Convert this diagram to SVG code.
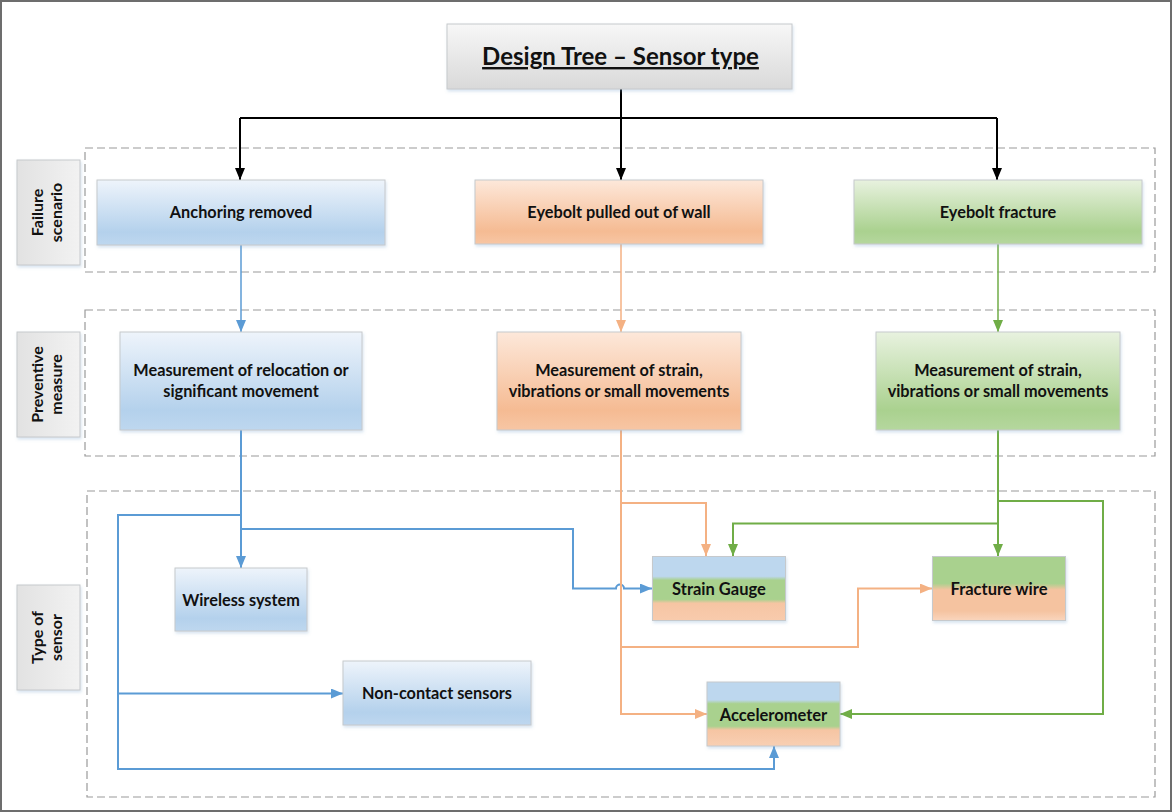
<svg xmlns="http://www.w3.org/2000/svg" width="1173" height="812" viewBox="0 0 1173 812">
  <style>
    .t { font-family: Lato, "Liberation Sans", sans-serif; font-weight: bold; fill: #111; text-anchor: middle; }
    .node { font-size: 16.3px; }
    .sensor { font-size: 16.5px; }
    .side { font-size: 16px; }
    .box { stroke: #c6c9cc; stroke-width: 1; filter: url(#shadow); }
    .band { stroke: #c6c9cc; stroke-width: 1; }
    .group { fill: none; stroke: #9a9a9a; stroke-width: 1.2; stroke-dasharray: 8 4; }
    .blk { fill: none; stroke: #000; stroke-width: 2; }
    .blue { fill: none; stroke: #5b9bd5; stroke-width: 2; }
    .orange { fill: none; stroke: #f4b183; stroke-width: 2; }
    .green { fill: none; stroke: #70ad47; stroke-width: 2; }
    .thin { stroke-width: 1.5; }
  </style>
  <defs>
    <filter id="shadow" x="-10%" y="-10%" width="125%" height="135%">
      <feDropShadow dx="1" dy="2" stdDeviation="1.5" flood-color="#7fa7cf" flood-opacity="0.3"/>
    </filter>
    <linearGradient id="gTitle" x1="0" y1="0" x2="0" y2="1">
      <stop offset="0" stop-color="#f7f7f7"/>
      <stop offset="1" stop-color="#d9d9d9"/>
    </linearGradient>
    <linearGradient id="gSide" x1="0" y1="0" x2="1" y2="0">
      <stop offset="0" stop-color="#e2e2e2"/>
      <stop offset="1" stop-color="#f2f2f2"/>
    </linearGradient>
    <linearGradient id="gBlue" x1="0" y1="0" x2="0" y2="1">
      <stop offset="0" stop-color="#eef4fb"/>
      <stop offset="0.8" stop-color="#b4d1ec"/>
      <stop offset="1" stop-color="#bed7ef"/>
    </linearGradient>
    <linearGradient id="gOrange" x1="0" y1="0" x2="0" y2="1">
      <stop offset="0" stop-color="#fde8da"/>
      <stop offset="0.8" stop-color="#f5bb93"/>
      <stop offset="1" stop-color="#f7c6a4"/>
    </linearGradient>
    <linearGradient id="gGreen" x1="0" y1="0" x2="0" y2="1">
      <stop offset="0" stop-color="#e8f2df"/>
      <stop offset="0.8" stop-color="#aad18f"/>
      <stop offset="1" stop-color="#b5d79e"/>
    </linearGradient>
    <!-- tri-colour sensor boxes: blue / green / orange bands -->
    <linearGradient id="gStrain" x1="0" y1="0" x2="0" y2="1">
      <stop offset="0" stop-color="#bdd7ee"/>
      <stop offset="0.31" stop-color="#bdd7ee"/>
      <stop offset="0.37" stop-color="#a9d18e"/>
      <stop offset="0.67" stop-color="#a9d18e"/>
      <stop offset="0.73" stop-color="#f6c5a3"/>
      <stop offset="1" stop-color="#f8cbad"/>
    </linearGradient>
    <linearGradient id="gAccel" x1="0" y1="0" x2="0" y2="1">
      <stop offset="0" stop-color="#bdd7ee"/>
      <stop offset="0.28" stop-color="#bdd7ee"/>
      <stop offset="0.34" stop-color="#a9d18e"/>
      <stop offset="0.69" stop-color="#a9d18e"/>
      <stop offset="0.75" stop-color="#f6c5a3"/>
      <stop offset="1" stop-color="#f8cfb3"/>
    </linearGradient>
    <linearGradient id="gFracture" x1="0" y1="0" x2="0" y2="1">
      <stop offset="0" stop-color="#a9d18e"/>
      <stop offset="0.42" stop-color="#a9d18e"/>
      <stop offset="0.52" stop-color="#f5c3a0"/>
      <stop offset="0.85" stop-color="#f5c3a0"/>
      <stop offset="1" stop-color="#f9d5bd"/>
    </linearGradient>
    <marker id="aBlk" viewBox="0 0 12 10" refX="12" refY="5" markerWidth="12" markerHeight="10" markerUnits="userSpaceOnUse" orient="auto">
      <path d="M0,0 L12,5 L0,10 z" fill="#000"/>
    </marker>
    <marker id="aBlue" viewBox="0 0 12 10" refX="12" refY="5" markerWidth="12" markerHeight="10" markerUnits="userSpaceOnUse" orient="auto">
      <path d="M0,0 L12,5 L0,10 z" fill="#5b9bd5"/>
    </marker>
    <marker id="aOrange" viewBox="0 0 12 10" refX="12" refY="5" markerWidth="12" markerHeight="10" markerUnits="userSpaceOnUse" orient="auto">
      <path d="M0,0 L12,5 L0,10 z" fill="#f4b183"/>
    </marker>
    <marker id="aGreen" viewBox="0 0 12 10" refX="12" refY="5" markerWidth="12" markerHeight="10" markerUnits="userSpaceOnUse" orient="auto">
      <path d="M0,0 L12,5 L0,10 z" fill="#70ad47"/>
    </marker>
  </defs>

  <rect width="1173" height="812" fill="#fff"/>
  <rect x="1" y="1" width="1170" height="810" fill="none" stroke="#6d6d6d" stroke-width="2"/>

  <!-- dashed band frames -->
  <g id="bands">
    <rect class="group" x="85" y="148" width="1070" height="124"/>
    <rect class="group" x="85" y="310" width="1070" height="146"/>
    <rect class="group" x="87" y="491" width="1068" height="306"/>
  </g>

  <!-- band labels -->
  <g id="label-failure">
    <rect class="box" x="17" y="160" width="63" height="105" fill="url(#gSide)"/>
    <text class="t side" transform="translate(43,212.5) rotate(-90)" x="0" y="0">Failure</text>
    <text class="t side" transform="translate(62,212.5) rotate(-90)" x="0" y="0">scenario</text>
  </g>
  <g id="label-preventive">
    <rect class="box" x="17" y="332" width="63" height="105" fill="url(#gSide)"/>
    <text class="t side" transform="translate(43,384.5) rotate(-90)" x="0" y="0">Preventive</text>
    <text class="t side" transform="translate(62,384.5) rotate(-90)" x="0" y="0">measure</text>
  </g>
  <g id="label-sensor">
    <rect class="box" x="17" y="585" width="63" height="105" fill="url(#gSide)"/>
    <text class="t side" transform="translate(43,637.5) rotate(-90)" x="0" y="0">Type of</text>
    <text class="t side" transform="translate(62,637.5) rotate(-90)" x="0" y="0">sensor</text>
  </g>

  <!-- connectors -->
  <g id="connectors">
    <path class="blk" d="M621,89 V118"/>
    <path class="blk" d="M240,118 H997"/>
    <path class="blk" d="M240,118 V180" marker-end="url(#aBlk)"/>
    <path class="blk" d="M621,118 V180" marker-end="url(#aBlk)"/>
    <path class="blk" d="M997,118 V180" marker-end="url(#aBlk)"/>

    <path class="blue thin" d="M241,245 V332" marker-end="url(#aBlue)"/>
    <path class="blue" d="M241,430 V568" marker-end="url(#aBlue)"/>
    <path class="blue" d="M241,515 H118 V769 H774 V746" marker-end="url(#aBlue)"/>
    <path class="blue" d="M118,693.5 H343" marker-end="url(#aBlue)"/>
    <path class="blue" d="M241,529 H573 V588.5 H616 a4,4 0 0 1 8,0 H652" marker-end="url(#aBlue)"/>

    <path class="orange thin" d="M621,244 V332" marker-end="url(#aOrange)"/>
    <path class="orange" d="M621,430 V714 H707" marker-end="url(#aOrange)"/>
    <path class="orange" d="M621,503 H706 V556" marker-end="url(#aOrange)"/>
    <path class="orange" d="M621,647 H858 V588.5 H932" marker-end="url(#aOrange)"/>

    <path class="green thin" d="M998,244 V332" marker-end="url(#aGreen)"/>
    <path class="green" d="M998,430 V556" marker-end="url(#aGreen)"/>
    <path class="green" d="M998,523.5 H733 V556" marker-end="url(#aGreen)"/>
    <path class="green" d="M998,501 H1103 V714 H840" marker-end="url(#aGreen)"/>
  </g>

  <!-- title -->
  <g id="title">
    <rect class="box" x="447" y="24" width="345" height="65" fill="url(#gTitle)"/>
    <text class="t" x="620.5" y="65" font-size="24" text-decoration="underline">Design Tree – Sensor type</text>
  </g>

  <!-- failure scenarios -->
  <g id="anchoring-removed">
    <rect class="box" x="97" y="180" width="288" height="65" fill="url(#gBlue)"/>
    <text class="t node" x="241" y="218">Anchoring removed</text>
  </g>
  <g id="eyebolt-pulled">
    <rect class="box" x="475" y="180" width="288" height="64" fill="url(#gOrange)"/>
    <text class="t node" x="619" y="218">Eyebolt pulled out of wall</text>
  </g>
  <g id="eyebolt-fracture">
    <rect class="box" x="854" y="180" width="288" height="64" fill="url(#gGreen)"/>
    <text class="t node" x="998" y="218">Eyebolt fracture</text>
  </g>

  <!-- preventive measures -->
  <g id="measure-relocation">
    <rect class="box" x="120" y="332" width="242" height="98" fill="url(#gBlue)"/>
    <text class="t node" x="241" y="376">Measurement of relocation or</text>
    <text class="t node" x="241" y="397">significant movement</text>
  </g>
  <g id="measure-strain-1">
    <rect class="box" x="497" y="332" width="244" height="98" fill="url(#gOrange)"/>
    <text class="t node" x="619" y="376">Measurement of strain,</text>
    <text class="t node" x="619" y="397">vibrations or small movements</text>
  </g>
  <g id="measure-strain-2">
    <rect class="box" x="876" y="332" width="244" height="98" fill="url(#gGreen)"/>
    <text class="t node" x="998" y="376">Measurement of strain,</text>
    <text class="t node" x="998" y="397">vibrations or small movements</text>
  </g>

  <!-- sensor types -->
  <g id="wireless-system">
    <rect class="box" x="175" y="568" width="132" height="63" fill="url(#gBlue)"/>
    <text class="t node" x="241" y="606">Wireless system</text>
  </g>
  <g id="non-contact-sensors">
    <rect class="box" x="343" y="661" width="188" height="64" fill="url(#gBlue)"/>
    <text class="t node" x="437" y="699">Non-contact sensors</text>
  </g>
  <g id="strain-gauge">
    <rect class="band" x="652.5" y="556.5" width="133" height="64" fill="url(#gStrain)" filter="url(#shadow)"/>
    <text class="t sensor" x="719" y="595">Strain Gauge</text>
  </g>
  <g id="fracture-wire">
    <rect class="band" x="932.5" y="556.5" width="133" height="64" fill="url(#gFracture)" filter="url(#shadow)"/>
    <text class="t sensor" x="999" y="595">Fracture wire</text>
  </g>
  <g id="accelerometer">
    <rect class="band" x="707" y="682" width="133" height="64" fill="url(#gAccel)" filter="url(#shadow)"/>
    <text class="t sensor" x="773.5" y="720.5">Accelerometer</text>
  </g>
</svg>
